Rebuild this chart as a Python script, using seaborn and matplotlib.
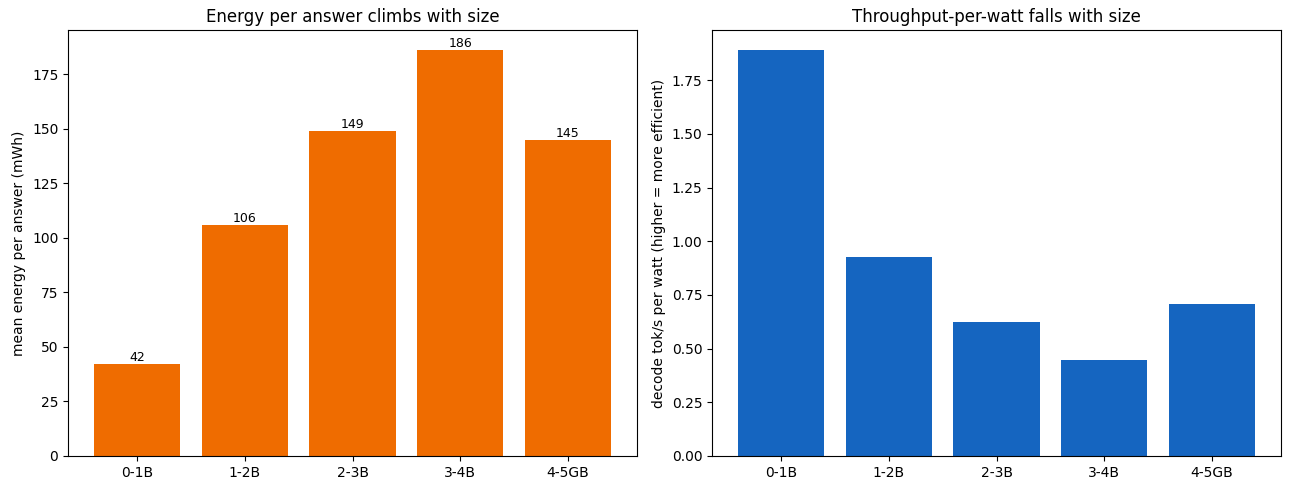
import numpy as np
import pandas as pd
import matplotlib
matplotlib.use('Agg')
import matplotlib.pyplot as plt
import seaborn as sns

# data
size_bins = ['0-1B', '1-2B', '2-3B', '3-4B', '4-5GB']
energy_mwh = [42, 106, 149, 186, 145]
tok_per_watt = [1.889, 0.926, 0.622, 0.449, 0.706]

df = pd.DataFrame({'size': size_bins, 'energy': energy_mwh, 'tpw': tok_per_watt})

fig, axes = plt.subplots(1, 2, figsize=(12.89, 4.9), dpi=100)

# --- left: energy per answer ---
ax = axes[0]
sns.barplot(data=df, x='size', y='energy', color='#EF6C00', saturation=1, width=0.8, ax=ax)
ax.bar_label(ax.containers[0], labels=[f'{v:.0f}' for v in energy_mwh], fontsize=9)
ax.set_xlim(-0.64, 4.64)
ax.set_title('Energy per answer climbs with size')
ax.set_xlabel('')
ax.set_ylabel('mean energy per answer (mWh)')

# --- right: throughput per watt ---
ax = axes[1]
sns.barplot(data=df, x='size', y='tpw', color='#1565C0', saturation=1, width=0.8, ax=ax)
ax.set_xlim(-0.64, 4.64)
ax.set_title('Throughput-per-watt falls with size')
ax.set_xlabel('')
ax.set_ylabel('decode tok/s per watt (higher = more efficient)')

plt.subplots_adjust(left=0.0528, right=0.9938, top=0.9388, bottom=0.0694, wspace=0.132)
plt.savefig('out.png', dpi=100)
